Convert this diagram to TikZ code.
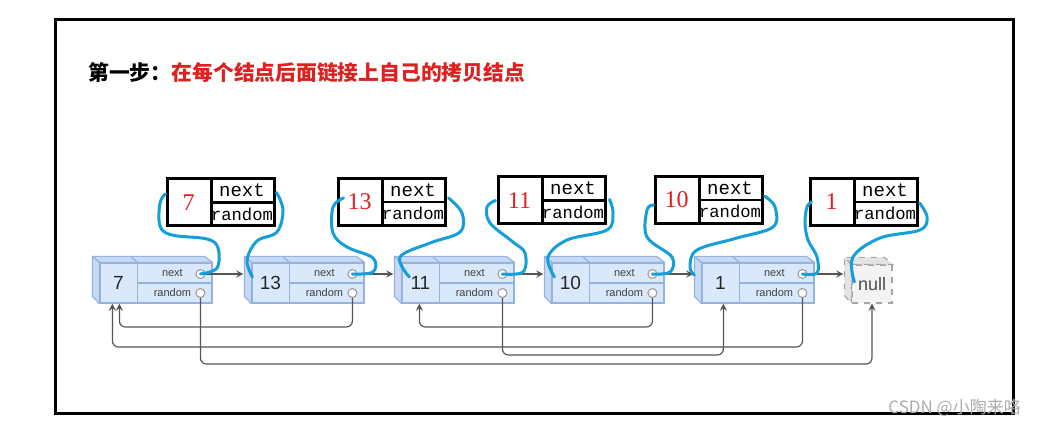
\documentclass[tikz,border=0pt]{standalone}
\usepackage{fontspec}
\setmainfont{Liberation Sans}
\newfontfamily\cjk{Noto Sans CJK SC}
\newfontfamily\codefont{Liberation Mono}
\newfontfamily\numfont{Liberation Serif}
\usetikzlibrary{arrows}
\definecolor{nodefill}{RGB}{218,232,252}
\definecolor{nodeside}{RGB}{200,217,243}
\definecolor{nodeline}{RGB}{150,178,222}
\definecolor{nullfill}{RGB}{243,243,243}
\definecolor{nullside}{RGB}{228,228,228}
\definecolor{handblue}{RGB}{22,158,218}
\definecolor{titlered}{RGB}{222,32,32}
\definecolor{ptrgray}{RGB}{85,85,85}

\begin{document}
\begin{tikzpicture}[
    x=0.5pt, y=-0.5pt,
    front/.style={draw=nodeline, fill=nodefill, line width=0.6pt, minimum width=56pt, minimum height=20pt, inner sep=0pt},
    side/.style={draw=nodeline, fill=nodeside, line width=0.6pt, line join=round},
    nullbox/.style={draw=gray!70, dashed, fill=nullfill, line width=0.6pt, minimum width=20pt, minimum height=19pt, inner sep=0pt, font=\fontsize{9}{9}\selectfont, text=black!70},
    nullside/.style={draw=gray!70, dashed, fill=nullside, line width=0.6pt},
    hole/.style={draw=gray!80, fill=white, circle, minimum size=4.5pt, inner sep=0pt, line width=0.5pt},
    val/.style={font=\fontsize{9.5}{9.5}\selectfont, text=black!85},
    field/.style={font=\fontsize{5.5}{5.5}\selectfont, text=black!75},
    copybox/.style={draw, line width=1.5pt, minimum width=53.5pt, minimum height=23.5pt, inner sep=0pt},
    copyval/.style={font=\numfont\fontsize{12}{12}\selectfont, text=titlered},
    copyfield/.style={font=\codefont\fontsize{9.5}{9.5}\selectfont, inner sep=0pt},
    pointer/.style={->, >=stealth, draw=ptrgray, line width=0.6pt},
    randptr/.style={pointer, rounded corners=3pt},
    hand/.style={draw=handblue, line width=1.5pt, line cap=round, line join=round}
]
    \useasboundingbox (0,0) rectangle (1039,427);

    % Frame and title
    \draw[line width=1.5pt] (55.5,19.5) rectangle (1013.5,413);
    \node[anchor=west, inner sep=0pt, font=\cjk\bfseries\fontsize{10.4}{10.4}\selectfont] (title) at (88,73)
        {第一步：\textcolor{titlered}{在每个结点后面链接上自己的拷贝结点}};

    % Original list
    \node[front] (n0) at (156,283) {};
    \node[front] (n1) at (308,283) {};
    \node[front] (n2) at (458,283) {};
    \node[front] (n3) at (608,283) {};
    \node[front] (n4) at (758,283) {};
    \node[nullbox] (nnull) at (872,284) {null};

    \foreach \n/\v in {n0/7, n1/13, n2/11, n3/10, n4/1} {
        \filldraw[side] (\n.north west) -- ++(-7,-6) -- ++(112,0) -- (\n.north east) -- cycle;
        \filldraw[side] (\n.north west) -- ++(-7,-6) -- ++(0,40) -- (\n.south west) -- cycle;
        \draw[nodeline, line width=0.6pt] ([xshift=19pt]\n.north west) -- ++(-7,-6);
        \draw[nodeline, line width=0.6pt] ([xshift=19pt]\n.north west) -- ([xshift=19pt]\n.south west);
        \draw[nodeline, line width=0.6pt] ([xshift=19pt]\n.west) -- (\n.east);
        \node[val] at ([xshift=9.5pt]\n.west) {\v};
        \node[field] at ([xshift=36.5pt, yshift=5pt]\n.west) {next};
        \node[field] at ([xshift=36.5pt, yshift=-5pt]\n.west) {random};
        \node[hole] (\n-next) at ([xshift=50.5pt, yshift=4.5pt]\n.west) {};
        \node[hole] (\n-rand) at ([xshift=50.5pt, yshift=-5pt]\n.west) {};
    }
    \filldraw[nullside] (nnull.north west) -- ++(-7,-7) -- ++(40,0) -- (nnull.north east) -- cycle;
    \filldraw[nullside] (nnull.north west) -- ++(-7,-7) -- ++(0,38) -- (nnull.south west) -- cycle;

    % next links
    \draw[pointer, shorten >=4pt] (n0-next) -- (n1.west |- n0-next);
    \draw[pointer, shorten >=4pt] (n1-next) -- (n2.west |- n1-next);
    \draw[pointer, shorten >=4pt] (n2-next) -- (n3.west |- n2-next);
    \draw[pointer, shorten >=4pt] (n3-next) -- (n4.west |- n3-next);
    \draw[pointer, shorten >=4pt] (n4-next) -- (nnull.west |- n4-next);

    % random links
    \draw[randptr] (n0-rand) -- ++(0,71) -| (nnull.south);
    \draw[randptr] (n1-rand) -- ++(0,34) -| ([xshift=10pt]n0.south west);
    \draw[randptr] (n2-rand) -- ++(0,62) -| ([xshift=11pt]n4.south west);
    \draw[randptr] (n3-rand) -- ++(0,34) -| ([xshift=9pt]n2.south west);
    \draw[randptr] (n4-rand) -- ++(0,54) -| ([xshift=6.5pt]n0.south west);

    % Copied nodes
    \foreach \c/\v/\x/\y in {c0/7/220.5/202.5, c1/13/391.5/202, c2/11/551.5/200.5, c3/10/708.5/200, c4/1/863.5/202} {
        \node[copybox] (\c) at (\x,\y) {};
        \draw[line width=1.3pt] ([xshift=23pt]\c.north west) -- ([xshift=23pt]\c.south west);
        \draw[line width=1.3pt] ([xshift=23pt]\c.west) -- (\c.east);
        \node[copyval] at ([xshift=11.5pt]\c.west) {\v};
        \node[copyfield] at ([xshift=38.25pt, yshift=5.9pt]\c.west) {next};
        \node[copyfield, font=\codefont\fontsize{8.6}{8.6}\selectfont] at ([xshift=38.25pt, yshift=-5.9pt]\c.west) {random};
    }

    % Hand-drawn links to the copies
    \draw[hand] plot[smooth, tension=0.6] coordinates {(n0-next.center) (217,268) (218,248) (207,239) (172,235) (160,226) (160,203) ([shift={(0,-8.5)}]c0.west)};
    \draw[hand] plot[smooth, tension=0.6] coordinates {([shift={(1,-10)}]c0.east) (283,210) (277,232) (257,241) (247,260) ([shift={(1,-6)}]n1.west)};
    \draw[hand] plot[smooth, tension=0.6] coordinates {(n1-next.center) (373,272) (373,258) (347,247) (333,233) (333,207) ([shift={(7,-4)}]c1.west)};
    \draw[hand] plot[smooth, tension=0.6] coordinates {([shift={(2,-4)}]c1.east) (462,213) (460,232) (430,243) (400,257) ([shift={(8,-6)}]n2.west)};
    \draw[hand] plot[smooth, tension=0.6] coordinates {(n2-next.center) (523,272) (525,253) (513,242) (490,223) (487,207) ([shift={(-1,0)}]c2.west)};
    \draw[hand] plot[smooth, tension=0.6] coordinates {([shift={(3,-1)}]c2.east) (613,213) (607,230) (567,240) (548,257) ([shift={(3,-6)}]n3.west)};
    \draw[hand] plot[smooth, tension=0.6] coordinates {(n3-next.center) (670,272) (672,257) (647,237) (647,210) ([shift={(0,5)}]c3.west)};
    \draw[hand] plot[smooth, tension=0.6] coordinates {([shift={(1,-4)}]c3.east) (775,207) (773,227) (737,238) (697,250) (690,267) ([shift={(-7,-8)}]n4.west)};
    \draw[hand] plot[smooth, tension=0.6] coordinates {(n4-next.center) (817,273) (817,257) (808,240) (805,223) (807,207) ([shift={(3,0)}]c4.west)};
    \draw[hand] plot[smooth, tension=0.6] coordinates {([shift={(1,1)}]c4.east) (927,217) (920,230) (880,238) (853,257) ([shift={(3,-2)}]nnull.west)};

    % Watermark
    \node[anchor=west, inner sep=0pt, font=\cjk\fontsize{8.5}{8.5}\selectfont, text=gray!65] (mark) at (888,408) {CSDN @小陶来咯};
\end{tikzpicture}
\end{document}
